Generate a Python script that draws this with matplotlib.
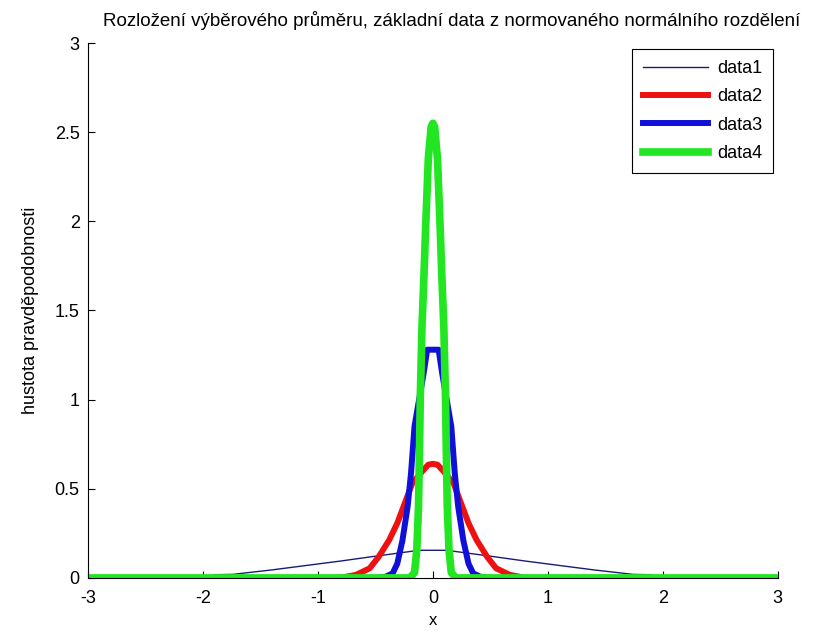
import matplotlib.pyplot as plt

plt.rcParams['font.family'] = ['Liberation Sans', 'DejaVu Sans']
plt.rcParams['axes.unicode_minus'] = False

# data1 - tenka cara
x1 = [-1.90, -1.74, -1.40, -1.10, -0.80, -0.50, -0.12, 0.12, 0.50, 0.80, 1.10, 1.40, 1.74, 1.90]
y1 = [0.018, 0.02, 0.045, 0.070, 0.095, 0.122, 0.155, 0.155, 0.122, 0.095, 0.070, 0.045, 0.02, 0.018]

# data2 - cervena
x2 = [-2.10, -0.81, -0.67, -0.55, -0.47, -0.38, -0.31, -0.25, -0.18, -0.09, -0.04, 0.0,
      0.04, 0.09, 0.18, 0.25, 0.31, 0.38, 0.47, 0.55, 0.67, 0.81, 2.10]
y2 = [0.0, 0.0, 0.017, 0.054, 0.12, 0.213, 0.307, 0.41, 0.53, 0.60, 0.635, 0.64,
      0.635, 0.60, 0.53, 0.41, 0.307, 0.213, 0.12, 0.054, 0.017, 0.0, 0.0]

# data3 - modra
x3 = [-1.00, -0.50, -0.41, -0.35, -0.31, -0.265, -0.22, -0.19, -0.16, -0.12, -0.08, -0.05,
      0.05, 0.08, 0.12, 0.16, 0.19, 0.22, 0.265, 0.31, 0.35, 0.41, 0.50, 1.00]
y3 = [0.0, 0.0, 0.007, 0.026, 0.08, 0.21, 0.40, 0.59, 0.85, 1.00, 1.15, 1.28,
      1.28, 1.15, 1.00, 0.85, 0.59, 0.40, 0.21, 0.08, 0.026, 0.007, 0.0, 0.0]

# data4 - zelena
x4 = [-3.00, -0.20, -0.16, -0.14, -0.125, -0.115, -0.11, -0.095, -0.078, -0.063, -0.04, -0.015, 0.0,
      0.015, 0.04, 0.063, 0.078, 0.095, 0.11, 0.115, 0.125, 0.14, 0.16, 0.20, 3.00]
y4 = [0.0, 0.0, 0.03, 0.16, 0.40, 0.78, 1.00, 1.41, 1.69, 1.97, 2.35, 2.53, 2.55,
      2.53, 2.35, 1.97, 1.69, 1.41, 1.00, 0.78, 0.40, 0.16, 0.03, 0.0, 0.0]

title = 'Rozložení výběrového průměru, základní data z normovaného normálního rozdělení'
xticks = [-3, -2, -1, 0, 1, 2, 3]
yticks = [0, 0.5, 1, 1.5, 2, 2.5, 3]
ytick_labels = ['0', '0.5', '1', '1.5', '2', '2.5', '3']

fig = plt.figure(figsize=(8.23, 6.33), dpi=100)
ax = fig.add_axes([0.107, 0.087, 0.838, 0.845])

ax.plot(x1, y1, color='#1a1a7a', linewidth=1.0, label='data1')
ax.plot(x2, y2, color='#ee1111', linewidth=4.3, label='data2')
ax.plot(x3, y3, color='#1010d8', linewidth=4.3, label='data3')
ax.plot(x4, y4, color='#22e622', linewidth=5.5, label='data4')

ax.set_xlim(-3, 3)
ax.set_ylim(0, 3)
ax.set_xticks(xticks)
ax.set_yticks(yticks)
ax.set_yticklabels(ytick_labels)
ax.tick_params(direction='in', length=5, labelsize=13)
ax.tick_params(axis='x', pad=9)
ax.tick_params(axis='y', pad=6)
ax.spines['top'].set_visible(False)
ax.spines['right'].set_visible(False)

ax.set_title(title, fontsize=13.5, pad=12, x=0.527)
ax.set_xlabel('x', fontsize=12, labelpad=4)
ax.set_ylabel('hustota pravděpodobnosti', fontsize=13, labelpad=11)

leg = ax.legend(loc='upper right', bbox_to_anchor=(0.993, 0.988), fontsize=13,
                fancybox=False, edgecolor='black', framealpha=1, borderaxespad=0,
                handlelength=3.6, handletextpad=0.5, labelspacing=0.62, borderpad=0.6)
leg.get_frame().set_linewidth(0.8)

fig.savefig('out.png', dpi=100)
